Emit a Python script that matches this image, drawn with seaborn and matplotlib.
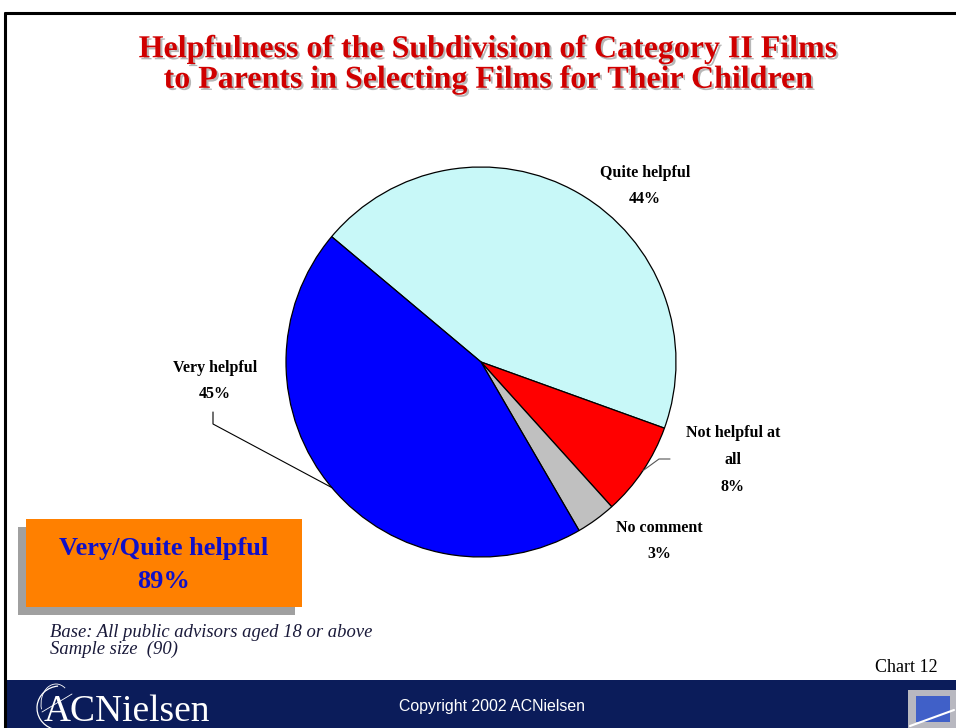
import numpy as np
import matplotlib
matplotlib.use("Agg")
import matplotlib.pyplot as plt
import matplotlib.patheffects as pe
from matplotlib.patches import Rectangle, Arc
import seaborn as sns

# data
categories = ["Quite helpful", "Not helpful at\nall", "No comment", "Very helpful"]
shares = [44.4, 7.8, 3.3, 44.5]
pct_labels = ["44%", "8%", "3%", "45%"]
slice_colors = ["#c8f8f8", "#ff0000", "#c0c0c0", "#0000ff"]

title = ("Helpfulness of the Subdivision of Category II Films\n"
         "to Parents in Selecting Films for Their Children")
summary = "Very/Quite helpful\n89%"
base_note = "Base: All public advisors aged 18 or above\nSample size  (90)"

sns.set_theme(style="white")
plt.rcParams["font.family"] = ["Liberation Serif", "DejaVu Serif"]

W, H = 956, 728
fig = plt.figure(figsize=(W / 100, H / 100), dpi=100)
ax = fig.add_axes([0, 0, 1, 1])


def Y(py):
    # pixel row (top origin) -> data y
    return H - py


cx, cy, r = 481, Y(362), 195
start = 140
wedges, _ = ax.pie(
    shares,
    colors=slice_colors,
    startangle=start,
    counterclock=False,
    center=(cx, cy),
    radius=r,
    wedgeprops=dict(edgecolor="black", linewidth=0.9),
)
ax.set_xlim(0, W)
ax.set_ylim(0, H)
ax.set_aspect("equal")
ax.axis("off")

# mid angles of the wedges for the leader lines
mids = [np.deg2rad((w.theta1 + w.theta2) / 2) for w in wedges]


def edge_point(i):
    return cx + r * np.cos(mids[i]), cy + r * np.sin(mids[i])


lab_kw = dict(fontsize=11.5, fontweight="bold", ha="center", va="center",
              color="black", linespacing=1.9)

ax.text(645, Y(186), f"{categories[0]}\n{pct_labels[0]}", **lab_kw)
ax.text(733, Y(460), f"{categories[1]}\n{pct_labels[1]}", **lab_kw)
ax.text(659, Y(541), f"{categories[2]}\n{pct_labels[2]}", **lab_kw)
ax.text(215, Y(381), f"{categories[3]}\n{pct_labels[3]}", **lab_kw)

# leader lines
ex, ey = edge_point(3)
ax.plot([213, 213, ex], [Y(412), Y(424), ey], color="black", lw=0.8)
ex, ey = edge_point(1)
ax.plot([670, 659, ex], [Y(459), Y(459), ey], color="#555555", lw=0.8)

# title with shadow
ax.text(489, Y(65), title, ha="center", va="center", fontsize=23,
        fontweight="bold", color="#d00000", linespacing=1.07,
        path_effects=[pe.withSimplePatchShadow(offset=(1.5, -1.5),
                                               shadow_rgbFace="#999999",
                                               alpha=0.7)])

# summary box
ax.add_patch(Rectangle((18, Y(615)), 277, 88, color="#a0a0a0", lw=0))
ax.add_patch(Rectangle((26, Y(607)), 276, 88, color="#ff8000", lw=0))
ax.text(164, Y(565), summary, ha="center", va="center", fontsize=19,
        fontweight="bold", color="#1010c8", linespacing=1.5)

ax.text(50, Y(641), base_note, ha="left", va="center", fontsize=13.4,
        fontstyle="italic", color="#1a1a3a", linespacing=1.0)
ax.text(938, Y(667), "Chart 12", ha="right", va="center", fontsize=13,
        color="black")

# slide frame
ax.plot([5, 5], [0, Y(13)], color="black", lw=2.2)
ax.plot([5, W], [Y(13), Y(13)], color="black", lw=2.2)

# footer band
ax.add_patch(Rectangle((6, 0), W - 6, 48, color="#0b1c5a", lw=0))
ax.text(492, Y(706), "Copyright 2002 ACNielsen", ha="center", va="center",
        fontsize=11.4, color="white", family=["Liberation Sans"])
ax.text(44, Y(712), "ACNielsen", ha="left", va="center", fontsize=27,
        color="white")
ax.add_patch(Arc((60, Y(708)), 46, 44, theta1=95, theta2=250,
                 color="white", lw=0.9))
ax.add_patch(Arc((56, Y(704)), 30, 40, theta1=60, theta2=200,
                 color="white", lw=0.6))
ax.plot([42, 72], [Y(712), Y(694)], color="white", lw=0.6)

# corner icon
ax.add_patch(Rectangle((908, 0), 48, 38, color="#b8b8c0", lw=0))
ax.add_patch(Rectangle((916, 6), 34, 26, color="#4060c8", lw=0))
ax.plot([910, 954], [2, 18], color="white", lw=1.5)

fig.savefig("out.png", dpi=100)
